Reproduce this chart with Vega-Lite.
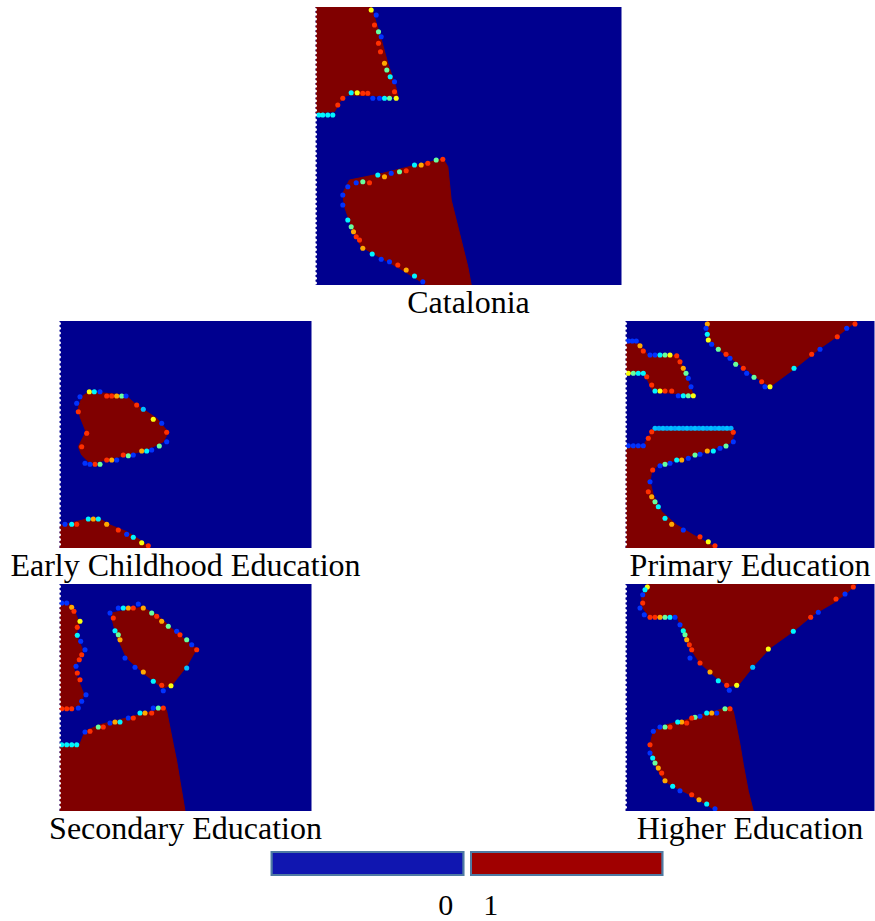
{
"$schema": "https://vega.github.io/schema/vega-lite/v6.json",
"padding": {"left": 9.5, "top": 7, "right": 0, "bottom": 0},
"autosize": {"type": "pad"},
"bounds": "flush",
"align": "each",
"columns": 3,
"spacing": {"row": 36, "column": 4},
"config": {
  "view": {"stroke": null},
  "title": {"font": "Liberation Serif", "fontSize": 32, "fontWeight": "normal", "color": "#000000", "orient": "bottom", "offset": 3, "baseline": "alphabetic", "anchor": "middle", "frame": "group"}
},
"datasets": {
"empty": [],
"legend": [{"v": 0}, {"v": 1}],
"edge": [{"y":2.5},{"y":7.3},{"y":12.1},{"y":16.9},{"y":21.7},{"y":26.5},{"y":31.3},{"y":36.1},{"y":40.9},{"y":45.7},{"y":50.5},{"y":55.3},{"y":60.1},{"y":64.9},{"y":69.7},{"y":74.5},{"y":79.3},{"y":84.1},{"y":88.9},{"y":93.7},{"y":98.5},{"y":103.3},{"y":108.1},{"y":112.9},{"y":117.7},{"y":122.5},{"y":127.3},{"y":132.1},{"y":136.9},{"y":141.7},{"y":146.5},{"y":151.3},{"y":156.1},{"y":160.9},{"y":165.7},{"y":170.5},{"y":175.3},{"y":180.1},{"y":184.9},{"y":189.7},{"y":194.5},{"y":199.3},{"y":204.1},{"y":208.9},{"y":213.7},{"y":218.5},{"y":223.3},{"y":228.1},{"y":232.9},{"y":237.7},{"y":242.5},{"y":247.3},{"y":252.1},{"y":256.9},{"y":261.7},{"y":266.5},{"y":271.3},{"y":276.1}],
"poly": [
{"p":"cat","r":"a","i":0,"x":0,"y":0},{"p":"cat","r":"a","i":1,"x":55.7,"y":0},{"p":"cat","r":"a","i":2,"x":64,"y":26.3},{"p":"cat","r":"a","i":3,"x":72.3,"y":56.3},{"p":"cat","r":"a","i":4,"x":80.7,"y":81.3},{"p":"cat","r":"a","i":5,"x":82.3,"y":89.7},{"p":"cat","r":"a","i":6,"x":34,"y":88},{"p":"cat","r":"a","i":7,"x":27.3,"y":89.7},{"p":"cat","r":"a","i":8,"x":19,"y":104.7},{"p":"cat","r":"a","i":9,"x":0,"y":105.7},
{"p":"cat","r":"b","i":0,"x":127.3,"y":151.3},{"p":"cat","r":"b","i":1,"x":132.3,"y":159.7},{"p":"cat","r":"b","i":2,"x":135.7,"y":193},{"p":"cat","r":"b","i":3,"x":144,"y":226.3},{"p":"cat","r":"b","i":4,"x":152.3,"y":259.7},{"p":"cat","r":"b","i":5,"x":155.7,"y":278},{"p":"cat","r":"b","i":6,"x":110.7,"y":278},{"p":"cat","r":"b","i":7,"x":84,"y":261.3},{"p":"cat","r":"b","i":8,"x":57.3,"y":246.3},{"p":"cat","r":"b","i":9,"x":45.7,"y":239.7},{"p":"cat","r":"b","i":10,"x":37.3,"y":223},{"p":"cat","r":"b","i":11,"x":29,"y":199.7},{"p":"cat","r":"b","i":12,"x":27.3,"y":186.3},{"p":"cat","r":"b","i":13,"x":34,"y":173},{"p":"cat","r":"b","i":14,"x":67.3,"y":166.3},{"p":"cat","r":"b","i":15,"x":100.7,"y":158},
{"p":"ece","r":"a","i":0,"x":28.8,"y":70.7},{"p":"ece","r":"a","i":1,"x":65.5,"y":74},{"p":"ece","r":"a","i":2,"x":77.2,"y":84},{"p":"ece","r":"a","i":3,"x":97.2,"y":97.3},{"p":"ece","r":"a","i":4,"x":108.8,"y":111.3},{"p":"ece","r":"a","i":5,"x":103.8,"y":120.7},{"p":"ece","r":"a","i":6,"x":87.2,"y":129},{"p":"ece","r":"a","i":7,"x":67.2,"y":134},{"p":"ece","r":"a","i":8,"x":47.2,"y":139},{"p":"ece","r":"a","i":9,"x":30.5,"y":142.3},{"p":"ece","r":"a","i":10,"x":22.2,"y":134},{"p":"ece","r":"a","i":11,"x":18.8,"y":125.7},{"p":"ece","r":"a","i":12,"x":26.5,"y":110.7},{"p":"ece","r":"a","i":13,"x":20.5,"y":95.7},{"p":"ece","r":"a","i":14,"x":18.8,"y":85.7},{"p":"ece","r":"a","i":15,"x":23.8,"y":74},
{"p":"ece","r":"b","i":0,"x":0,"y":204.7},{"p":"ece","r":"b","i":1,"x":10.5,"y":202.3},{"p":"ece","r":"b","i":2,"x":27.2,"y":198},{"p":"ece","r":"b","i":3,"x":40.5,"y":198},{"p":"ece","r":"b","i":4,"x":50.5,"y":204},{"p":"ece","r":"b","i":5,"x":67.2,"y":210.7},{"p":"ece","r":"b","i":6,"x":80.5,"y":219},{"p":"ece","r":"b","i":7,"x":90.5,"y":227},{"p":"ece","r":"b","i":8,"x":0,"y":227},
{"p":"pri","r":"a","i":0,"x":81.8,"y":0},{"p":"pri","r":"a","i":1,"x":231.2,"y":0},{"p":"pri","r":"a","i":2,"x":211.2,"y":15.7},{"p":"pri","r":"a","i":3,"x":194.5,"y":27.3},{"p":"pri","r":"a","i":4,"x":169.5,"y":47.3},{"p":"pri","r":"a","i":5,"x":144.5,"y":65.7},{"p":"pri","r":"a","i":6,"x":129.5,"y":55.7},{"p":"pri","r":"a","i":7,"x":119.5,"y":47.3},{"p":"pri","r":"a","i":8,"x":107.8,"y":39},{"p":"pri","r":"a","i":9,"x":91.2,"y":27.3},{"p":"pri","r":"a","i":10,"x":81.8,"y":17.3},
{"p":"pri","r":"b","i":0,"x":0,"y":22.3},{"p":"pri","r":"b","i":1,"x":12.8,"y":22.3},{"p":"pri","r":"b","i":2,"x":22.8,"y":34.7},{"p":"pri","r":"b","i":3,"x":52.8,"y":34.7},{"p":"pri","r":"b","i":4,"x":67.8,"y":74},{"p":"pri","r":"b","i":5,"x":27.8,"y":70.7},{"p":"pri","r":"b","i":6,"x":21.2,"y":57.3},{"p":"pri","r":"b","i":7,"x":16.2,"y":52.3},{"p":"pri","r":"b","i":8,"x":0,"y":52.3},
{"p":"pri","r":"c","i":0,"x":0,"y":124.7},{"p":"pri","r":"c","i":1,"x":17.8,"y":124.7},{"p":"pri","r":"c","i":2,"x":27.8,"y":108},{"p":"pri","r":"c","i":3,"x":107.8,"y":108},{"p":"pri","r":"c","i":4,"x":108.5,"y":112.3},{"p":"pri","r":"c","i":5,"x":106.2,"y":121.3},{"p":"pri","r":"c","i":6,"x":84.5,"y":129},{"p":"pri","r":"c","i":7,"x":57.8,"y":137.3},{"p":"pri","r":"c","i":8,"x":32.8,"y":144},{"p":"pri","r":"c","i":9,"x":26.2,"y":150},{"p":"pri","r":"c","i":10,"x":24.5,"y":160.7},{"p":"pri","r":"c","i":11,"x":27.8,"y":174},{"p":"pri","r":"c","i":12,"x":36.2,"y":190.7},{"p":"pri","r":"c","i":13,"x":51.2,"y":204},{"p":"pri","r":"c","i":14,"x":67.8,"y":214},{"p":"pri","r":"c","i":15,"x":91.2,"y":227},{"p":"pri","r":"c","i":16,"x":0,"y":227},
{"p":"sec","r":"a","i":0,"x":0,"y":20.7},{"p":"sec","r":"a","i":1,"x":11.2,"y":20.7},{"p":"sec","r":"a","i":2,"x":16.5,"y":30.7},{"p":"sec","r":"a","i":3,"x":19.8,"y":39},{"p":"sec","r":"a","i":4,"x":16.5,"y":50.7},{"p":"sec","r":"a","i":5,"x":23.2,"y":65.7},{"p":"sec","r":"a","i":6,"x":17.8,"y":77.3},{"p":"sec","r":"a","i":7,"x":14.5,"y":85.7},{"p":"sec","r":"a","i":8,"x":20.5,"y":100.7},{"p":"sec","r":"a","i":9,"x":24.5,"y":110.7},{"p":"sec","r":"a","i":10,"x":19.2,"y":122.3},{"p":"sec","r":"a","i":11,"x":0,"y":124.7},
{"p":"sec","r":"b","i":0,"x":52.2,"y":29},{"p":"sec","r":"b","i":1,"x":82.2,"y":23.3},{"p":"sec","r":"b","i":2,"x":97.2,"y":30.7},{"p":"sec","r":"b","i":3,"x":117.2,"y":49},{"p":"sec","r":"b","i":4,"x":137.2,"y":64.7},{"p":"sec","r":"b","i":5,"x":127.2,"y":82.3},{"p":"sec","r":"b","i":6,"x":112.2,"y":101.3},{"p":"sec","r":"b","i":7,"x":103.2,"y":104},{"p":"sec","r":"b","i":8,"x":83.8,"y":89},{"p":"sec","r":"b","i":9,"x":67.2,"y":74},{"p":"sec","r":"b","i":10,"x":57.2,"y":52.3},{"p":"sec","r":"b","i":11,"x":52.2,"y":34},
{"p":"sec","r":"c","i":0,"x":0,"y":160},{"p":"sec","r":"c","i":1,"x":20.5,"y":160},{"p":"sec","r":"c","i":2,"x":25.5,"y":147.3},{"p":"sec","r":"c","i":3,"x":40.5,"y":140.7},{"p":"sec","r":"c","i":4,"x":73.8,"y":132.3},{"p":"sec","r":"c","i":5,"x":105.5,"y":124},{"p":"sec","r":"c","i":6,"x":107.2,"y":127.3},{"p":"sec","r":"c","i":7,"x":110.5,"y":144},{"p":"sec","r":"c","i":8,"x":113.8,"y":160.7},{"p":"sec","r":"c","i":9,"x":117.2,"y":177.3},{"p":"sec","r":"c","i":10,"x":120.5,"y":197.3},{"p":"sec","r":"c","i":11,"x":125.5,"y":227},{"p":"sec","r":"c","i":12,"x":0,"y":227},
{"p":"hig","r":"a","i":0,"x":21.2,"y":0},{"p":"hig","r":"a","i":1,"x":231.2,"y":0},{"p":"hig","r":"a","i":2,"x":221.2,"y":9},{"p":"hig","r":"a","i":3,"x":207.8,"y":19},{"p":"hig","r":"a","i":4,"x":187.8,"y":30.7},{"p":"hig","r":"a","i":5,"x":167.8,"y":47.3},{"p":"hig","r":"a","i":6,"x":144.5,"y":64},{"p":"hig","r":"a","i":7,"x":127.8,"y":82.3},{"p":"hig","r":"a","i":8,"x":112.8,"y":101.3},{"p":"hig","r":"a","i":9,"x":102.8,"y":102.3},{"p":"hig","r":"a","i":10,"x":91.2,"y":94},{"p":"hig","r":"a","i":11,"x":74.5,"y":79},{"p":"hig","r":"a","i":12,"x":64.5,"y":64},{"p":"hig","r":"a","i":13,"x":57.2,"y":47.3},{"p":"hig","r":"a","i":14,"x":51.8,"y":33.3},{"p":"hig","r":"a","i":15,"x":24.5,"y":33.3},{"p":"hig","r":"a","i":16,"x":17.2,"y":24},{"p":"hig","r":"a","i":17,"x":16.2,"y":14},{"p":"hig","r":"a","i":18,"x":19.5,"y":5.7},
{"p":"hig","r":"b","i":0,"x":104.5,"y":122.3},{"p":"hig","r":"b","i":1,"x":107.8,"y":127.3},{"p":"hig","r":"b","i":2,"x":111.2,"y":144},{"p":"hig","r":"b","i":3,"x":114.5,"y":160.7},{"p":"hig","r":"b","i":4,"x":117.8,"y":180.7},{"p":"hig","r":"b","i":5,"x":122.8,"y":207.3},{"p":"hig","r":"b","i":6,"x":127.8,"y":227},{"p":"hig","r":"b","i":7,"x":91.2,"y":227},{"p":"hig","r":"b","i":8,"x":81.2,"y":220.7},{"p":"hig","r":"b","i":9,"x":64.5,"y":210.7},{"p":"hig","r":"b","i":10,"x":47.8,"y":202.3},{"p":"hig","r":"b","i":11,"x":39.5,"y":197.3},{"p":"hig","r":"b","i":12,"x":32.8,"y":187.3},{"p":"hig","r":"b","i":13,"x":27.8,"y":177.3},{"p":"hig","r":"b","i":14,"x":24.5,"y":160.7},{"p":"hig","r":"b","i":15,"x":27.8,"y":147.3},{"p":"hig","r":"b","i":16,"x":41.2,"y":140.7},{"p":"hig","r":"b","i":17,"x":61.2,"y":135.7},{"p":"hig","r":"b","i":18,"x":81.2,"y":129}
],
"dots": [
{"p":"cat","x":55.7,"y":3,"v":0.62},{"p":"cat","x":60.7,"y":8,"v":0.14},{"p":"cat","x":59,"y":18,"v":0.86},{"p":"cat","x":63,"y":24.7,"v":0.5},{"p":"cat","x":65.7,"y":29.7,"v":0.14},{"p":"cat","x":63,"y":36.3,"v":0.86},{"p":"cat","x":65,"y":44.7,"v":0.86},{"p":"cat","x":69,"y":56.3,"v":0.74},{"p":"cat","x":71.3,"y":63,"v":0.5},{"p":"cat","x":74.7,"y":69.7,"v":0.36},{"p":"cat","x":79,"y":74.7,"v":0.14},{"p":"cat","x":79,"y":84.7,"v":0.86},{"p":"cat","x":80.7,"y":91.3,"v":0.62},{"p":"cat","x":74,"y":91.3,"v":0.5},{"p":"cat","x":69,"y":91.3,"v":0.36},{"p":"cat","x":64,"y":91.3,"v":0.14},{"p":"cat","x":57.3,"y":91.3,"v":0.14},{"p":"cat","x":52.3,"y":86.3,"v":0.86},{"p":"cat","x":47.3,"y":86.3,"v":0.86},{"p":"cat","x":41.7,"y":85.7,"v":0.62},{"p":"cat","x":35.7,"y":85.7,"v":0.36},{"p":"cat","x":27.3,"y":91.3,"v":0.86},{"p":"cat","x":22.3,"y":98,"v":0.86},{"p":"cat","x":17.3,"y":108,"v":0.36},{"p":"cat","x":12.3,"y":108,"v":0.36},{"p":"cat","x":7.3,"y":108,"v":0.36},{"p":"cat","x":3.3,"y":108,"v":0.36},
{"p":"cat","x":127.3,"y":152.3,"v":0.86},{"p":"cat","x":120.7,"y":153,"v":0.5},{"p":"cat","x":112.3,"y":156.3,"v":0.86},{"p":"cat","x":105.7,"y":158,"v":0.74},{"p":"cat","x":99,"y":158,"v":0.36},{"p":"cat","x":90.7,"y":163.7,"v":0.86},{"p":"cat","x":84,"y":164.7,"v":0.5},{"p":"cat","x":75.7,"y":166.3,"v":0.14},{"p":"cat","x":69,"y":169.7,"v":0.74},{"p":"cat","x":62.3,"y":168,"v":0.36},{"p":"cat","x":54,"y":175.7,"v":0.86},{"p":"cat","x":47.3,"y":174.7,"v":0.5},{"p":"cat","x":40.7,"y":175.7,"v":0.14},{"p":"cat","x":32.3,"y":179.7,"v":0.14},{"p":"cat","x":27.3,"y":188,"v":0.14},{"p":"cat","x":27.3,"y":198,"v":0.14},{"p":"cat","x":32.3,"y":213,"v":0.36},{"p":"cat","x":35.7,"y":219.7,"v":0.5},{"p":"cat","x":38,"y":224.7,"v":0.74},{"p":"cat","x":40.7,"y":229.7,"v":0.86},{"p":"cat","x":44,"y":233,"v":0.86},{"p":"cat","x":47.3,"y":241.3,"v":0.74},{"p":"cat","x":56.7,"y":247,"v":0.36},{"p":"cat","x":65.7,"y":252.3,"v":0.14},{"p":"cat","x":74,"y":254.7,"v":0.14},{"p":"cat","x":82.3,"y":258,"v":0.86},{"p":"cat","x":90.7,"y":263,"v":0.74},{"p":"cat","x":99,"y":269,"v":0.36},{"p":"cat","x":107.3,"y":274.7,"v":0.14},
{"p":"ece","x":29.8,"y":70.7,"v":0.62},{"p":"ece","x":34.8,"y":70.7,"v":0.36},{"p":"ece","x":40.5,"y":70.7,"v":0.14},{"p":"ece","x":47.2,"y":75,"v":0.86},{"p":"ece","x":52.2,"y":75,"v":0.86},{"p":"ece","x":57.2,"y":75,"v":0.74},{"p":"ece","x":62.2,"y":75,"v":0.5},{"p":"ece","x":66.5,"y":75,"v":0.14},{"p":"ece","x":77.2,"y":84,"v":0.86},{"p":"ece","x":83.8,"y":88.3,"v":0.28},{"p":"ece","x":93.8,"y":98.3,"v":0.62},{"p":"ece","x":102.2,"y":102.3,"v":0.14},{"p":"ece","x":107.2,"y":111.3,"v":0.86},{"p":"ece","x":107.2,"y":120.7,"v":0.14},{"p":"ece","x":99.8,"y":125,"v":0.5},{"p":"ece","x":92.2,"y":129,"v":0.14},{"p":"ece","x":87.2,"y":130,"v":0.36},{"p":"ece","x":82.2,"y":130,"v":0.74},{"p":"ece","x":73.8,"y":134,"v":0.14},{"p":"ece","x":68.8,"y":134.7,"v":0.5},{"p":"ece","x":63.8,"y":134,"v":0.86},{"p":"ece","x":57.2,"y":139,"v":0.14},{"p":"ece","x":52.2,"y":139,"v":0.74},{"p":"ece","x":47.2,"y":139,"v":0.86},{"p":"ece","x":40.5,"y":143.3,"v":0.5},{"p":"ece","x":35.5,"y":143.3,"v":0.86},{"p":"ece","x":30.5,"y":143.3,"v":0.14},{"p":"ece","x":25.5,"y":142.3,"v":0.14},{"p":"ece","x":22.2,"y":125.7,"v":0.86},{"p":"ece","x":27.2,"y":112.3,"v":0.86},{"p":"ece","x":18.8,"y":90.7,"v":0.86},{"p":"ece","x":17.2,"y":82.3,"v":0.14},{"p":"ece","x":20.5,"y":75.7,"v":0.14},
{"p":"ece","x":5.5,"y":203.3,"v":0.14},{"p":"ece","x":12.2,"y":203.3,"v":0.36},{"p":"ece","x":17.2,"y":203.3,"v":0.86},{"p":"ece","x":28.8,"y":198,"v":0.36},{"p":"ece","x":33.8,"y":198,"v":0.74},{"p":"ece","x":38.8,"y":198,"v":0.36},{"p":"ece","x":47.2,"y":203.3,"v":0.74},{"p":"ece","x":58.8,"y":209,"v":0.86},{"p":"ece","x":67.2,"y":213.3,"v":0.14},{"p":"ece","x":73.8,"y":216.3,"v":0.36},{"p":"ece","x":82.2,"y":221.7,"v":0.62},{"p":"ece","x":88.8,"y":224.7,"v":0.86},
{"p":"pri","x":81.8,"y":3,"v":0.74},{"p":"pri","x":80.5,"y":7.3,"v":0.14},{"p":"pri","x":81.8,"y":13.3,"v":0.36},{"p":"pri","x":82.8,"y":19,"v":0.62},{"p":"pri","x":86.2,"y":23.3,"v":0.14},{"p":"pri","x":92.8,"y":28.3,"v":0.5},{"p":"pri","x":100.5,"y":33.3,"v":0.86},{"p":"pri","x":104.5,"y":37.3,"v":0.14},{"p":"pri","x":110.2,"y":43.3,"v":0.5},{"p":"pri","x":117.8,"y":47.3,"v":0.86},{"p":"pri","x":121.2,"y":52.3,"v":0.14},{"p":"pri","x":128.5,"y":56.3,"v":0.5},{"p":"pri","x":136.2,"y":60.7,"v":0.86},{"p":"pri","x":139.5,"y":65.7,"v":0.14},{"p":"pri","x":144.5,"y":65.7,"v":0.62},{"p":"pri","x":168.5,"y":47.3,"v":0.36},{"p":"pri","x":186.2,"y":33.3,"v":0.86},{"p":"pri","x":194.5,"y":28.3,"v":0.14},{"p":"pri","x":211.8,"y":15.7,"v":0.86},{"p":"pri","x":221.2,"y":7.3,"v":0.14},{"p":"pri","x":229.5,"y":3,"v":0.86},
{"p":"pri","x":2.8,"y":20,"v":0.14},{"p":"pri","x":6.8,"y":20,"v":0.14},{"p":"pri","x":10.8,"y":20,"v":0.14},{"p":"pri","x":14.5,"y":24.7,"v":0.74},{"p":"pri","x":17.8,"y":30,"v":0.86},{"p":"pri","x":24.5,"y":34,"v":0.14},{"p":"pri","x":29.5,"y":34,"v":0.14},{"p":"pri","x":34.5,"y":34,"v":0.36},{"p":"pri","x":39.5,"y":34,"v":0.5},{"p":"pri","x":44.5,"y":34,"v":0.62},{"p":"pri","x":51.2,"y":34.7,"v":0.86},{"p":"pri","x":54.5,"y":40.7,"v":0.86},{"p":"pri","x":57.8,"y":47.3,"v":0.74},{"p":"pri","x":60.5,"y":52.3,"v":0.5},{"p":"pri","x":62.8,"y":57.3,"v":0.14},{"p":"pri","x":65.5,"y":65.7,"v":0.14},{"p":"pri","x":67.8,"y":74.7,"v":0.62},{"p":"pri","x":62.8,"y":74.7,"v":0.5},{"p":"pri","x":57.8,"y":74.7,"v":0.36},{"p":"pri","x":52.8,"y":74.7,"v":0.14},{"p":"pri","x":46.2,"y":70,"v":0.86},{"p":"pri","x":39.5,"y":70,"v":0.86},{"p":"pri","x":34.5,"y":70,"v":0.62},{"p":"pri","x":29.5,"y":70,"v":0.36},{"p":"pri","x":26.2,"y":64,"v":0.86},{"p":"pri","x":21.2,"y":55.7,"v":0.86},{"p":"pri","x":17.8,"y":52.3,"v":0.36},{"p":"pri","x":12.8,"y":52.3,"v":0.36},{"p":"pri","x":7.8,"y":52.3,"v":0.5},{"p":"pri","x":2.8,"y":52.3,"v":0.62},
{"p":"pri","x":29.5,"y":107.3,"v":0.28},{"p":"pri","x":33.5,"y":107.3,"v":0.26},{"p":"pri","x":37.5,"y":107.3,"v":0.28},{"p":"pri","x":41.5,"y":107.3,"v":0.26},{"p":"pri","x":45.5,"y":107.3,"v":0.28},{"p":"pri","x":49.5,"y":107.3,"v":0.26},{"p":"pri","x":53.5,"y":107.3,"v":0.28},{"p":"pri","x":57.5,"y":107.3,"v":0.26},{"p":"pri","x":61.5,"y":107.3,"v":0.28},{"p":"pri","x":65.5,"y":107.3,"v":0.26},{"p":"pri","x":69.5,"y":107.3,"v":0.28},{"p":"pri","x":73.5,"y":107.3,"v":0.26},{"p":"pri","x":77.5,"y":107.3,"v":0.28},{"p":"pri","x":81.5,"y":107.3,"v":0.26},{"p":"pri","x":85.5,"y":107.3,"v":0.28},{"p":"pri","x":89.5,"y":107.3,"v":0.26},{"p":"pri","x":93.5,"y":107.3,"v":0.28},{"p":"pri","x":97.5,"y":107.3,"v":0.26},{"p":"pri","x":101.5,"y":107.3,"v":0.28},{"p":"pri","x":105.5,"y":107.3,"v":0.26},
{"p":"pri","x":107.8,"y":111.3,"v":0.86},{"p":"pri","x":107.8,"y":120.7,"v":0.14},{"p":"pri","x":100.5,"y":125,"v":0.5},{"p":"pri","x":94.5,"y":127.3,"v":0.14},{"p":"pri","x":87.8,"y":130,"v":0.36},{"p":"pri","x":81.8,"y":130,"v":0.74},{"p":"pri","x":74.5,"y":133.3,"v":0.14},{"p":"pri","x":69.5,"y":134,"v":0.5},{"p":"pri","x":62.8,"y":137.3,"v":0.14},{"p":"pri","x":56.2,"y":139,"v":0.74},{"p":"pri","x":51.2,"y":139,"v":0.36},{"p":"pri","x":44.5,"y":142.3,"v":0.14},{"p":"pri","x":39.5,"y":143.3,"v":0.5},{"p":"pri","x":34.5,"y":144.7,"v":0.14},{"p":"pri","x":27.2,"y":149,"v":0.86},{"p":"pri","x":24.5,"y":160.7,"v":0.14},{"p":"pri","x":22.8,"y":170.7,"v":0.86},{"p":"pri","x":26.2,"y":175.7,"v":0.74},{"p":"pri","x":29.5,"y":180.7,"v":0.5},{"p":"pri","x":32.8,"y":185.7,"v":0.36},{"p":"pri","x":39.5,"y":197.3,"v":0.36},{"p":"pri","x":46.2,"y":203.3,"v":0.74},{"p":"pri","x":57.8,"y":209,"v":0.14},{"p":"pri","x":74.5,"y":215.7,"v":0.86},{"p":"pri","x":82.8,"y":220.7,"v":0.62},{"p":"pri","x":89.5,"y":224.7,"v":0.86},
{"p":"pri","x":2.8,"y":124.7,"v":0.14},{"p":"pri","x":7.8,"y":124.7,"v":0.14},{"p":"pri","x":12.8,"y":124.7,"v":0.14},{"p":"pri","x":17.8,"y":124.7,"v":0.14},{"p":"pri","x":22.8,"y":117.3,"v":0.86},{"p":"pri","x":26.2,"y":110.7,"v":0.86},
{"p":"sec","x":2.2,"y":19,"v":0.14},{"p":"sec","x":7.2,"y":19,"v":0.14},{"p":"sec","x":12.2,"y":23.3,"v":0.74},{"p":"sec","x":14.5,"y":27.3,"v":0.86},{"p":"sec","x":20.5,"y":37.3,"v":0.62},{"p":"sec","x":17.8,"y":43.3,"v":0.86},{"p":"sec","x":17.8,"y":51.3,"v":0.36},{"p":"sec","x":21.2,"y":57.3,"v":0.14},{"p":"sec","x":25.5,"y":65.7,"v":0.14},{"p":"sec","x":22.2,"y":70.7,"v":0.86},{"p":"sec","x":19.8,"y":75.7,"v":0.86},{"p":"sec","x":16.5,"y":82.3,"v":0.14},{"p":"sec","x":17.8,"y":89,"v":0.86},{"p":"sec","x":20.5,"y":95.7,"v":0.86},{"p":"sec","x":26.5,"y":110.7,"v":0.14},{"p":"sec","x":22.2,"y":117.3,"v":0.14},{"p":"sec","x":18.8,"y":124,"v":0.14},{"p":"sec","x":2.2,"y":124.7,"v":0.86},{"p":"sec","x":7.2,"y":124.7,"v":0.86},{"p":"sec","x":12.2,"y":124.7,"v":0.86},
{"p":"sec","x":50.5,"y":29,"v":0.14},{"p":"sec","x":58.8,"y":24,"v":0.14},{"p":"sec","x":63.8,"y":24,"v":0.36},{"p":"sec","x":68.8,"y":24,"v":0.74},{"p":"sec","x":73.8,"y":24,"v":0.86},{"p":"sec","x":78.8,"y":20,"v":0.14},{"p":"sec","x":83.8,"y":24,"v":0.74},{"p":"sec","x":92.2,"y":29,"v":0.5},{"p":"sec","x":97.2,"y":32.3,"v":0.86},{"p":"sec","x":102.2,"y":37.3,"v":0.74},{"p":"sec","x":108.8,"y":42.3,"v":0.5},{"p":"sec","x":117.2,"y":47.3,"v":0.14},{"p":"sec","x":120.5,"y":50.7,"v":0.86},{"p":"sec","x":127.2,"y":55.7,"v":0.5},{"p":"sec","x":132.2,"y":60.7,"v":0.14},{"p":"sec","x":137.2,"y":65.7,"v":0.86},{"p":"sec","x":127.2,"y":84,"v":0.28},{"p":"sec","x":111.5,"y":101.7,"v":0.62},{"p":"sec","x":103.8,"y":106.7,"v":0.14},{"p":"sec","x":102.2,"y":101.3,"v":0.86},{"p":"sec","x":93.8,"y":97.3,"v":0.36},{"p":"sec","x":83.8,"y":88,"v":0.74},{"p":"sec","x":75.5,"y":83.3,"v":0.14},{"p":"sec","x":65.5,"y":74,"v":0.14},{"p":"sec","x":60.5,"y":55.7,"v":0.74},{"p":"sec","x":58.8,"y":50.7,"v":0.5},{"p":"sec","x":55.5,"y":46.7,"v":0.36},{"p":"sec","x":53.8,"y":34,"v":0.86},
{"p":"sec","x":2.2,"y":160.7,"v":0.36},{"p":"sec","x":7.2,"y":160.7,"v":0.36},{"p":"sec","x":12.2,"y":160.7,"v":0.36},{"p":"sec","x":17.2,"y":160.7,"v":0.36},{"p":"sec","x":25.5,"y":148,"v":0.14},{"p":"sec","x":30.5,"y":147.3,"v":0.86},{"p":"sec","x":38.8,"y":143,"v":0.5},{"p":"sec","x":43.8,"y":143,"v":0.86},{"p":"sec","x":50.5,"y":139,"v":0.14},{"p":"sec","x":55.5,"y":138,"v":0.74},{"p":"sec","x":60.5,"y":138,"v":0.36},{"p":"sec","x":68.8,"y":134,"v":0.14},{"p":"sec","x":73.8,"y":134,"v":0.86},{"p":"sec","x":80.5,"y":129,"v":0.36},{"p":"sec","x":85.5,"y":129,"v":0.74},{"p":"sec","x":92.2,"y":129,"v":0.86},{"p":"sec","x":93.8,"y":124,"v":0.14},{"p":"sec","x":98.8,"y":124,"v":0.5},{"p":"sec","x":103.8,"y":124,"v":0.86},
{"p":"hig","x":21.8,"y":3,"v":0.62},{"p":"hig","x":19.5,"y":5.7,"v":0.36},{"p":"hig","x":17.2,"y":10.7,"v":0.14},{"p":"hig","x":17.2,"y":19,"v":0.86},{"p":"hig","x":14.5,"y":24,"v":0.14},{"p":"hig","x":18.8,"y":30.7,"v":0.14},{"p":"hig","x":24.5,"y":33.3,"v":0.86},{"p":"hig","x":29.5,"y":33.3,"v":0.86},{"p":"hig","x":34.5,"y":33.3,"v":0.74},{"p":"hig","x":39.5,"y":33.3,"v":0.5},{"p":"hig","x":44.5,"y":33.3,"v":0.36},{"p":"hig","x":49.5,"y":33.3,"v":0.14},{"p":"hig","x":54.5,"y":40.7,"v":0.14},{"p":"hig","x":57.8,"y":46.7,"v":0.42},{"p":"hig","x":59.5,"y":50.7,"v":0.5},{"p":"hig","x":61.2,"y":55.7,"v":0.74},{"p":"hig","x":63.8,"y":60.7,"v":0.86},{"p":"hig","x":66.2,"y":65.7,"v":0.86},{"p":"hig","x":64.5,"y":74,"v":0.14},{"p":"hig","x":74.5,"y":79,"v":0.86},{"p":"hig","x":84.5,"y":88,"v":0.74},{"p":"hig","x":92.8,"y":96.7,"v":0.36},{"p":"hig","x":101.2,"y":101.3,"v":0.86},{"p":"hig","x":103.8,"y":106.3,"v":0.14},{"p":"hig","x":111.2,"y":101.3,"v":0.62},{"p":"hig","x":127.2,"y":83.3,"v":0.28},{"p":"hig","x":142.8,"y":65,"v":0.62},{"p":"hig","x":167.8,"y":47.3,"v":0.36},{"p":"hig","x":185.2,"y":33.3,"v":0.86},{"p":"hig","x":192.8,"y":28.3,"v":0.14},{"p":"hig","x":210.5,"y":15,"v":0.86},{"p":"hig","x":219.5,"y":10,"v":0.14},{"p":"hig","x":227.8,"y":3,"v":0.86},
{"p":"hig","x":104.5,"y":124.7,"v":0.86},{"p":"hig","x":99.5,"y":124.7,"v":0.5},{"p":"hig","x":91.2,"y":129,"v":0.14},{"p":"hig","x":86.2,"y":129,"v":0.74},{"p":"hig","x":81.2,"y":129,"v":0.36},{"p":"hig","x":74.5,"y":132.3,"v":0.14},{"p":"hig","x":69.5,"y":133.3,"v":0.5},{"p":"hig","x":66.2,"y":134,"v":0.86},{"p":"hig","x":61.2,"y":139,"v":0.86},{"p":"hig","x":56.2,"y":138,"v":0.74},{"p":"hig","x":52.2,"y":138,"v":0.36},{"p":"hig","x":44.5,"y":143,"v":0.86},{"p":"hig","x":39.5,"y":143,"v":0.5},{"p":"hig","x":34.5,"y":143,"v":0.14},{"p":"hig","x":27.8,"y":147.3,"v":0.14},{"p":"hig","x":24.5,"y":160.7,"v":0.86},{"p":"hig","x":24.5,"y":169,"v":0.14},{"p":"hig","x":27.2,"y":174,"v":0.36},{"p":"hig","x":29.5,"y":179,"v":0.5},{"p":"hig","x":32.8,"y":184,"v":0.74},{"p":"hig","x":36.2,"y":189,"v":0.86},{"p":"hig","x":39.5,"y":196.7,"v":0.74},{"p":"hig","x":47.2,"y":202.3,"v":0.36},{"p":"hig","x":54.5,"y":206.7,"v":0.14},{"p":"hig","x":66.2,"y":210.7,"v":0.86},{"p":"hig","x":73.5,"y":215.7,"v":0.74},{"p":"hig","x":81.2,"y":220,"v":0.36},{"p":"hig","x":89.5,"y":224.7,"v":0.14}
]
},
"concat": [
{"width": 1, "height": 278, "data": {"name": "empty"}, "mark": {"type": "point", "opacity": 0}, "encoding": {}},
{
 "width": 306, "height": 278,
 "view": {"fill": "#00008f", "stroke": null},
 "title": {"text": "Catalonia"},
 "layer": [
  {"data": {"name": "poly"}, "transform": [{"filter": "datum.p === 'cat'"}],
   "mark": {"type": "line", "fill": "#800000", "stroke": "#800000", "strokeWidth": 1, "clip": true},
   "encoding": {
    "x": {"field": "x", "type": "quantitative", "scale": {"domain": [0, 306], "nice": false, "zero": false}, "axis": null},
    "y": {"field": "y", "type": "quantitative", "scale": {"domain": [0, 278], "nice": false, "zero": false, "reverse": true}, "axis": null},
    "detail": {"field": "r", "type": "nominal"},
    "order": {"field": "i", "type": "quantitative"}
   }},
  {"data": {"name": "dots"}, "transform": [{"filter": "datum.p === 'cat'"}],
   "mark": {"type": "point", "filled": true, "shape": "circle", "size": 26, "opacity": 1, "clip": true},
   "encoding": {
    "x": {"field": "x", "type": "quantitative", "scale": {"domain": [0, 306], "nice": false, "zero": false}, "axis": null},
    "y": {"field": "y", "type": "quantitative", "scale": {"domain": [0, 278], "nice": false, "zero": false, "reverse": true}, "axis": null},
    "color": {"field": "v", "type": "quantitative", "scale": {"domain": [0, 0.125, 0.375, 0.625, 0.875, 1], "range": ["#00008f", "#0000ff", "#00ffff", "#ffff00", "#ff0000", "#800000"]}, "legend": null}
   }},
  {"data": {"name": "edge"}, "transform": [{"filter": "datum.y <= 278"}],
   "mark": {"type": "point", "filled": true, "shape": "circle", "size": 9, "color": "#ffffff", "opacity": 1},
   "encoding": {
    "x": {"datum": 0, "type": "quantitative"},
    "y": {"field": "y", "type": "quantitative"}
   }}
 ]
},
{"width": 1, "height": 278, "data": {"name": "empty"}, "mark": {"type": "point", "opacity": 0}, "encoding": {}},
{
 "width": 252, "height": 227,
 "view": {"fill": "#00008f", "stroke": null},
 "title": {"text": "Early Childhood Education"},
 "layer": [
  {"data": {"name": "poly"}, "transform": [{"filter": "datum.p === 'ece'"}],
   "mark": {"type": "line", "fill": "#800000", "stroke": "#800000", "strokeWidth": 1, "clip": true},
   "encoding": {
    "x": {"field": "x", "type": "quantitative", "scale": {"domain": [0, 252], "nice": false, "zero": false}, "axis": null},
    "y": {"field": "y", "type": "quantitative", "scale": {"domain": [0, 227], "nice": false, "zero": false, "reverse": true}, "axis": null},
    "detail": {"field": "r", "type": "nominal"},
    "order": {"field": "i", "type": "quantitative"}
   }},
  {"data": {"name": "dots"}, "transform": [{"filter": "datum.p === 'ece'"}],
   "mark": {"type": "point", "filled": true, "shape": "circle", "size": 26, "opacity": 1, "clip": true},
   "encoding": {
    "x": {"field": "x", "type": "quantitative", "scale": {"domain": [0, 252], "nice": false, "zero": false}, "axis": null},
    "y": {"field": "y", "type": "quantitative", "scale": {"domain": [0, 227], "nice": false, "zero": false, "reverse": true}, "axis": null},
    "color": {"field": "v", "type": "quantitative", "scale": {"domain": [0, 0.125, 0.375, 0.625, 0.875, 1], "range": ["#00008f", "#0000ff", "#00ffff", "#ffff00", "#ff0000", "#800000"]}, "legend": null}
   }},
  {"data": {"name": "edge"}, "transform": [{"filter": "datum.y <= 227"}],
   "mark": {"type": "point", "filled": true, "shape": "circle", "size": 9, "color": "#ffffff", "opacity": 1},
   "encoding": {
    "x": {"datum": 0, "type": "quantitative"},
    "y": {"field": "y", "type": "quantitative"}
   }}
 ]
},
{"width": 1, "height": 227, "data": {"name": "empty"}, "mark": {"type": "point", "opacity": 0}, "encoding": {}},
{
 "width": 249, "height": 227,
 "view": {"fill": "#00008f", "stroke": null},
 "title": {"text": "Primary Education"},
 "layer": [
  {"data": {"name": "poly"}, "transform": [{"filter": "datum.p === 'pri'"}],
   "mark": {"type": "line", "fill": "#800000", "stroke": "#800000", "strokeWidth": 1, "clip": true},
   "encoding": {
    "x": {"field": "x", "type": "quantitative", "scale": {"domain": [0, 249], "nice": false, "zero": false}, "axis": null},
    "y": {"field": "y", "type": "quantitative", "scale": {"domain": [0, 227], "nice": false, "zero": false, "reverse": true}, "axis": null},
    "detail": {"field": "r", "type": "nominal"},
    "order": {"field": "i", "type": "quantitative"}
   }},
  {"data": {"name": "dots"}, "transform": [{"filter": "datum.p === 'pri'"}],
   "mark": {"type": "point", "filled": true, "shape": "circle", "size": 26, "opacity": 1, "clip": true},
   "encoding": {
    "x": {"field": "x", "type": "quantitative", "scale": {"domain": [0, 249], "nice": false, "zero": false}, "axis": null},
    "y": {"field": "y", "type": "quantitative", "scale": {"domain": [0, 227], "nice": false, "zero": false, "reverse": true}, "axis": null},
    "color": {"field": "v", "type": "quantitative", "scale": {"domain": [0, 0.125, 0.375, 0.625, 0.875, 1], "range": ["#00008f", "#0000ff", "#00ffff", "#ffff00", "#ff0000", "#800000"]}, "legend": null}
   }},
  {"data": {"name": "edge"}, "transform": [{"filter": "datum.y <= 227"}],
   "mark": {"type": "point", "filled": true, "shape": "circle", "size": 9, "color": "#ffffff", "opacity": 1},
   "encoding": {
    "x": {"datum": 0, "type": "quantitative"},
    "y": {"field": "y", "type": "quantitative"}
   }}
 ]
},
{
 "width": 252, "height": 227,
 "view": {"fill": "#00008f", "stroke": null},
 "title": {"text": "Secondary Education"},
 "layer": [
  {"data": {"name": "poly"}, "transform": [{"filter": "datum.p === 'sec'"}],
   "mark": {"type": "line", "fill": "#800000", "stroke": "#800000", "strokeWidth": 1, "clip": true},
   "encoding": {
    "x": {"field": "x", "type": "quantitative", "scale": {"domain": [0, 252], "nice": false, "zero": false}, "axis": null},
    "y": {"field": "y", "type": "quantitative", "scale": {"domain": [0, 227], "nice": false, "zero": false, "reverse": true}, "axis": null},
    "detail": {"field": "r", "type": "nominal"},
    "order": {"field": "i", "type": "quantitative"}
   }},
  {"data": {"name": "dots"}, "transform": [{"filter": "datum.p === 'sec'"}],
   "mark": {"type": "point", "filled": true, "shape": "circle", "size": 26, "opacity": 1, "clip": true},
   "encoding": {
    "x": {"field": "x", "type": "quantitative", "scale": {"domain": [0, 252], "nice": false, "zero": false}, "axis": null},
    "y": {"field": "y", "type": "quantitative", "scale": {"domain": [0, 227], "nice": false, "zero": false, "reverse": true}, "axis": null},
    "color": {"field": "v", "type": "quantitative", "scale": {"domain": [0, 0.125, 0.375, 0.625, 0.875, 1], "range": ["#00008f", "#0000ff", "#00ffff", "#ffff00", "#ff0000", "#800000"]}, "legend": null}
   }},
  {"data": {"name": "edge"}, "transform": [{"filter": "datum.y <= 227"}],
   "mark": {"type": "point", "filled": true, "shape": "circle", "size": 9, "color": "#ffffff", "opacity": 1},
   "encoding": {
    "x": {"datum": 0, "type": "quantitative"},
    "y": {"field": "y", "type": "quantitative"}
   }}
 ]
},
{"width": 1, "height": 227, "data": {"name": "empty"}, "mark": {"type": "point", "opacity": 0}, "encoding": {}},
{
 "width": 249, "height": 227,
 "view": {"fill": "#00008f", "stroke": null},
 "title": {"text": "Higher Education"},
 "layer": [
  {"data": {"name": "poly"}, "transform": [{"filter": "datum.p === 'hig'"}],
   "mark": {"type": "line", "fill": "#800000", "stroke": "#800000", "strokeWidth": 1, "clip": true},
   "encoding": {
    "x": {"field": "x", "type": "quantitative", "scale": {"domain": [0, 249], "nice": false, "zero": false}, "axis": null},
    "y": {"field": "y", "type": "quantitative", "scale": {"domain": [0, 227], "nice": false, "zero": false, "reverse": true}, "axis": null},
    "detail": {"field": "r", "type": "nominal"},
    "order": {"field": "i", "type": "quantitative"}
   }},
  {"data": {"name": "dots"}, "transform": [{"filter": "datum.p === 'hig'"}],
   "mark": {"type": "point", "filled": true, "shape": "circle", "size": 26, "opacity": 1, "clip": true},
   "encoding": {
    "x": {"field": "x", "type": "quantitative", "scale": {"domain": [0, 249], "nice": false, "zero": false}, "axis": null},
    "y": {"field": "y", "type": "quantitative", "scale": {"domain": [0, 227], "nice": false, "zero": false, "reverse": true}, "axis": null},
    "color": {"field": "v", "type": "quantitative", "scale": {"domain": [0, 0.125, 0.375, 0.625, 0.875, 1], "range": ["#00008f", "#0000ff", "#00ffff", "#ffff00", "#ff0000", "#800000"]}, "legend": null}
   }},
  {"data": {"name": "edge"}, "transform": [{"filter": "datum.y <= 227"}],
   "mark": {"type": "point", "filled": true, "shape": "circle", "size": 9, "color": "#ffffff", "opacity": 1},
   "encoding": {
    "x": {"datum": 0, "type": "quantitative"},
    "y": {"field": "y", "type": "quantitative"}
   }}
 ]
},
{"width": 1, "height": 68, "data": {"name": "empty"}, "mark": {"type": "point", "opacity": 0}, "encoding": {}},
{
 "width": 306, "height": 68,
 "data": {"name": "legend"},
 "layer": [
  {"mark": {"type": "rect", "fill": "#1016b0", "stroke": "#4f7ba3", "strokeWidth": 2},
   "encoding": {
    "x": {"datum": -3.869, "type": "quantitative", "scale": {"domain": [-2.896, 3.904], "nice": false, "zero": false}, "axis": null},
    "x2": {"datum": 0.389},
    "y": {"datum": 5, "type": "quantitative", "scale": {"domain": [0, 68], "nice": false, "zero": false, "reverse": true}, "axis": null},
    "y2": {"datum": 28}
   }},
  {"mark": {"type": "rect", "fill": "#a00000", "stroke": "#4f7ba3", "strokeWidth": 2},
   "encoding": {
    "x": {"datum": 0.56, "type": "quantitative"},
    "x2": {"datum": 4.811},
    "y": {"datum": 5, "type": "quantitative"},
    "y2": {"datum": 28}
   }},
  {"mark": {"type": "text", "font": "Liberation Serif", "fontSize": 30, "baseline": "alphabetic", "align": "center", "color": "#000000"},
   "encoding": {
    "x": {"field": "v", "type": "quantitative"},
    "y": {"datum": 68, "type": "quantitative"},
    "text": {"field": "v", "type": "nominal"}
   }}
 ]
},
{"width": 1, "height": 68, "data": {"name": "empty"}, "mark": {"type": "point", "opacity": 0}, "encoding": {}}
]
}
